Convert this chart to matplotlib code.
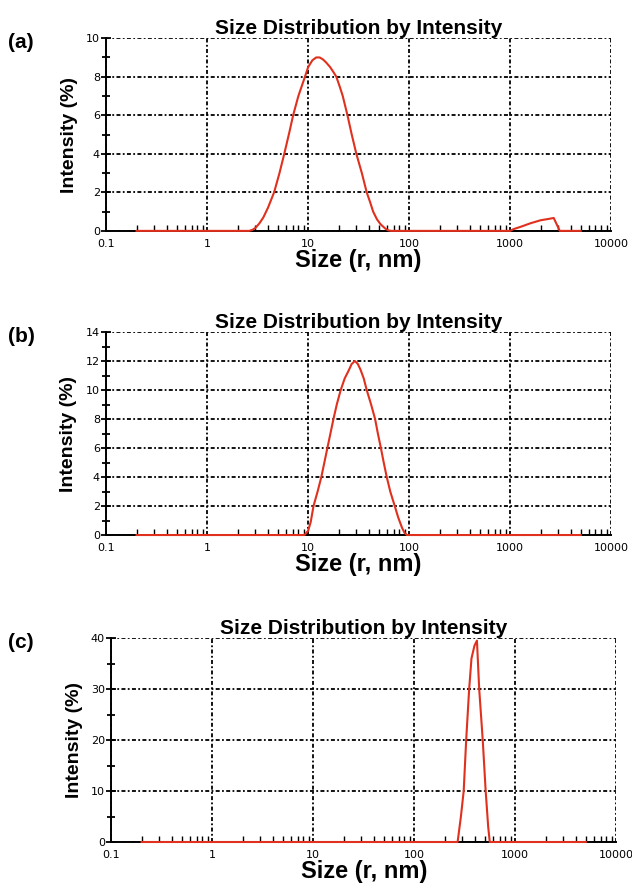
import matplotlib
matplotlib.use("Agg")
import matplotlib.pyplot as plt
from matplotlib.ticker import FixedLocator, NullFormatter, LogLocator

# ---- data (radius in nm, intensity in %) ----
size_a = [0.2, 2.6, 2.8, 3.0, 3.3, 3.6, 4.0, 4.6, 5.2, 5.8, 6.5, 7.1, 8.0, 9.3, 10.0,
          11.0, 12.0, 13.0, 14.0, 15.0, 16.5, 18.0, 19.0, 20.5, 22.0, 24.5, 27, 30,
          34, 38, 41, 44, 48, 52, 58, 62, 66,
          1000, 1080, 1300, 1600, 2000, 2400, 2700, 3100, 5000]
int_a = [0, 0, 0.05, 0.15, 0.4, 0.7, 1.2, 2.0, 3.0, 4.0, 5.1, 6.0, 7.0, 8.0, 8.5,
         8.85, 9.0, 9.0, 8.9, 8.75, 8.5, 8.2, 8.0, 7.5, 7.0, 6.0, 5.0, 4.0,
         3.0, 2.0, 1.5, 1.0, 0.6, 0.35, 0.12, 0.03, 0,
         0, 0.09, 0.23, 0.4, 0.55, 0.62, 0.67, 0, 0]

size_b = [0.2, 9.2, 10.0, 10.6, 11.3, 12.4, 13.5, 15.5, 17.8, 19.2, 21, 23, 25, 27,
          29, 31, 33, 35.5, 38, 42, 46, 49, 52.5, 56, 60, 65, 72, 78, 85, 90, 95, 5000]
int_b = [0, 0, 0.3, 0.9, 2.0, 3.0, 4.0, 6.0, 8.0, 9.0, 10.0, 10.8, 11.3, 11.8,
         12.0, 11.8, 11.4, 10.8, 10.0, 9.0, 8.0, 7.0, 6.0, 5.0, 4.0, 3.0, 2.0, 1.2,
         0.5, 0.15, 0, 0]

size_c = [0.2, 269, 290, 309, 327, 350, 369, 395, 418, 440, 477, 510, 540, 560, 5000]
int_c = [0, 0, 5, 10, 20, 30, 36, 38.5, 39.5, 30, 20, 10, 3, 0, 0]

panel_labels = ["(a)", "(b)", "(c)"]
title = "Size Distribution by Intensity"
xlabel = "Size (r, nm)"
ylabel = "Intensity (%)"
xticks = [0.1, 1, 10, 100, 1000, 10000]
xticklabels = ["0.1", "1", "10", "100", "1000", "10000"]
yticks_a = [0, 2, 4, 6, 8, 10]
yticks_b = [0, 2, 4, 6, 8, 10, 12, 14]
yticks_c = [0, 10, 20, 30, 40]

panels = [
    (size_a, int_a, yticks_a, 1, [0.168, 0.740, 0.799, 0.217]),
    (size_b, int_b, yticks_b, 1, [0.168, 0.3975, 0.799, 0.2286]),
    (size_c, int_c, yticks_c, 5, [0.176, 0.0518, 0.799, 0.2297]),
]

fig = plt.figure(figsize=(6.32, 8.88), dpi=100)
grid_ls = (0, (2.2, 1.3, 1, 1.3))
red = "#e0301e"

for (sx, sy, yt, minor_step, pos), lab in zip(panels, panel_labels):
    ax = fig.add_axes(pos)
    ax.set_xscale("log")
    ax.set_xlim(0.1, 10000)
    ax.set_ylim(yt[0], yt[-1])
    ax.plot(sx, sy, color=red, lw=1.5, zorder=5, solid_joinstyle="round",
            clip_on=False)
    ax.set_xticks(xticks)
    ax.set_xticklabels(xticklabels)
    ax.xaxis.set_minor_locator(LogLocator(base=10, subs=range(2, 10), numticks=20))
    ax.xaxis.set_minor_formatter(NullFormatter())
    ax.set_yticks(yt)
    ax.set_yticklabels([str(v) for v in yt])
    minors = [v + minor_step for v in yt[:-1]]
    ax.yaxis.set_minor_locator(FixedLocator(minors))
    ax.grid(True, which="major", color="black", linestyle=grid_ls, linewidth=1.3)
    for s in ["top", "right"]:
        ax.spines[s].set_visible(False)
    for s in ["left", "bottom"]:
        ax.spines[s].set_linewidth(1.4)
        ax.spines[s].set_zorder(4)
    ax.tick_params(axis="y", which="major", direction="inout", length=7, width=1.3,
                   labelsize=8, pad=1)
    ax.tick_params(axis="y", which="minor", direction="inout", length=6, width=1.3)
    ax.tick_params(axis="x", which="major", direction="in", length=0, labelsize=8, pad=6)
    ax.tick_params(axis="x", which="minor", direction="in", length=4, width=1.0)
    ax.set_title(title, fontsize=15, fontweight="bold", family="Liberation Sans", pad=3)
    ax.set_xlabel(xlabel, fontsize=17, fontweight="bold", family="Liberation Sans", labelpad=0)
    ax.set_ylabel(ylabel, fontsize=14, fontweight="bold", family="Liberation Sans", labelpad=6)
    fig.text(0.013, pos[1] + pos[3] - 0.005, lab, fontsize=15, fontweight="bold",
             family="Liberation Sans", va="center", ha="left")

fig.savefig("out.png", dpi=100, facecolor="white")
